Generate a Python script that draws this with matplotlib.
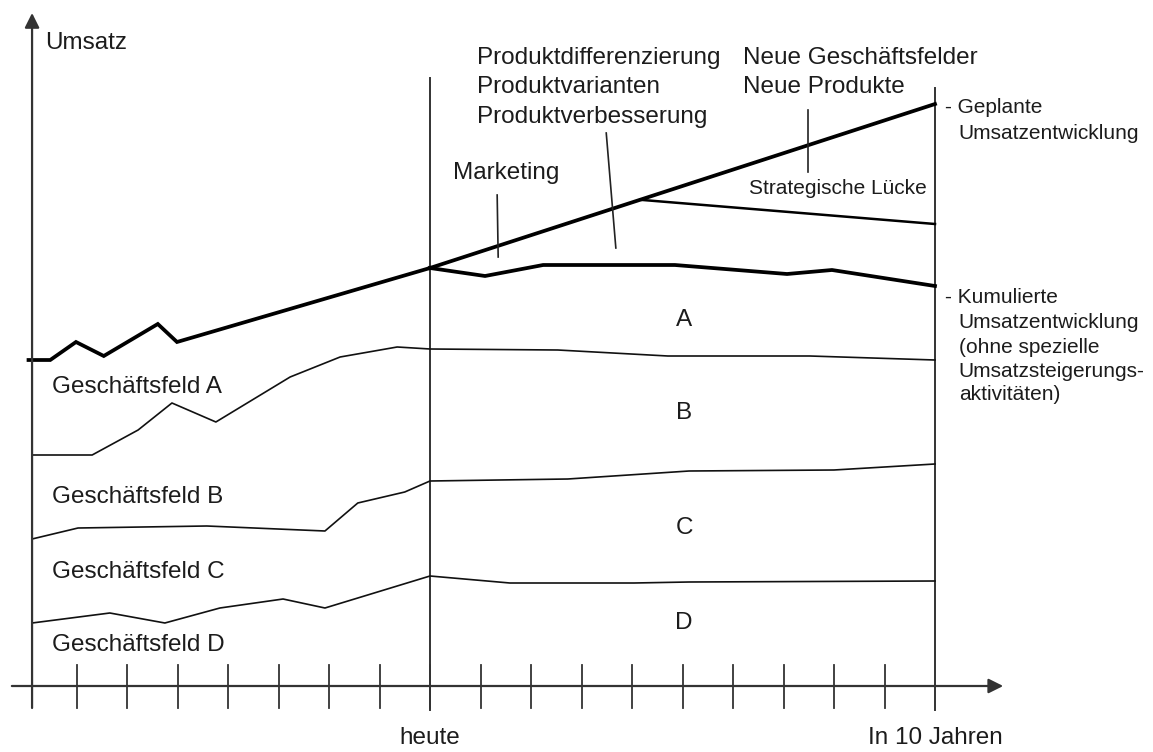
import numpy as np
import matplotlib
matplotlib.use("Agg")
import matplotlib.pyplot as plt

plt.rcParams['font.family'] = ['Liberation Sans', 'DejaVu Sans']

# ---- data (x: years relative to "heute", y: Umsatz in arbitrary units) ----
plan_past_x = [-7.95, -7.52, -7.01, -6.46, -5.39, -5.01, 0.0]
plan_past_y = [32.6, 32.6, 34.4, 33.0, 36.2, 34.4, 41.8]
plan_future_x = [0.0, 10.0]
plan_future_y = [41.8, 58.2]

cum_x = [0.0, 1.09, 2.24, 4.85, 7.07, 7.96, 10.0]
cum_y = [41.8, 41.0, 42.1, 42.1, 41.2, 41.6, 40.0]

gap_x = [4.16, 10.0]
gap_end_y = 46.2

ab_x = [-7.88, -6.69, -5.78, -5.11, -4.24, -2.77, -1.78, -0.65, 0.0, 2.53, 4.71, 7.52, 10.0]
ab_y = [23.1, 23.1, 25.6, 28.3, 26.4, 30.9, 32.9, 33.9, 33.7, 33.6, 33.0, 33.0, 32.6]

bc_x = [-7.88, -6.97, -4.42, -2.08, -1.43, -0.50, 0.0, 2.73, 5.13, 8.0, 10.0]
bc_y = [14.7, 15.8, 16.0, 15.5, 18.3, 19.4, 20.5, 20.7, 21.5, 21.6, 22.2]

cd_x = [-7.88, -6.34, -5.25, -4.16, -2.91, -2.08, 0.0, 1.58, 4.04, 5.13, 10.0]
cd_y = [6.3, 7.3, 6.3, 7.8, 8.7, 7.8, 11.0, 10.3, 10.3, 10.4, 10.5]

tick_years = list(range(-7, 10))
field_labels = ["Geschäftsfeld A", "Geschäftsfeld B", "Geschäftsfeld C", "Geschäftsfeld D"]
segment_letters = ["A", "B", "C", "D"]

# ---- figure ----
W, H = 1153, 752
fig = plt.figure(figsize=(W / 100, H / 100), dpi=100)
ax = fig.add_axes([0, 0, 1, 1])
ax.set_xlim(-430 / 50.5, (W - 430) / 50.5)
ax.set_ylim((686 - H) / 10, 686 / 10)
ax.axis('off')

txt = '#1c1c1c'
axc = '#333333'
FS = 17.5
FS2 = 15

# axes with arrows
ax.annotate('', xy=(11.35, 0), xytext=(-8.28, 0),
            arrowprops=dict(arrowstyle='-|>', color=axc, lw=1.6, mutation_scale=22,
                            shrinkA=0, shrinkB=0))
ax.annotate('', xy=(-7.88, 67.3), xytext=(-7.88, -2.2),
            arrowprops=dict(arrowstyle='-|>', color=axc, lw=1.6, mutation_scale=22,
                            shrinkA=0, shrinkB=0))
# ticks
for t in tick_years:
    ax.plot([t, t], [2.1, -2.2], color=axc, lw=1.3)
# vertical lines heute / in 10 Jahren
ax.plot([0, 0], [-2.4, 60.8], color=axc, lw=1.4)
ax.plot([10, 10], [-2.4, 59.8], color=axc, lw=1.4)

# business field boundaries (thin)
ax.plot(ab_x, ab_y, color='#111111', lw=1.2)
ax.plot(bc_x, bc_y, color='#111111', lw=1.2)
ax.plot(cd_x, cd_y, color='#111111', lw=1.2)

# planned and cumulative (thick)
ax.plot(plan_past_x, plan_past_y, color='black', lw=2.7, solid_joinstyle='miter')
ax.plot(plan_future_x, plan_future_y, color='black', lw=2.7)
ax.plot(cum_x, cum_y, color='black', lw=2.7)
gap_start_y = float(np.interp(gap_x[0], plan_future_x, plan_future_y))
ax.plot(gap_x, [gap_start_y, gap_end_y], color='black', lw=1.8)

# leader lines
ax.plot([1.33, 1.35], [49.1, 42.9], color='#222222', lw=1.2)
ax.plot([3.49, 3.68], [55.3, 43.8], color='#222222', lw=1.2)
ax.plot([7.49, 7.49], [57.6, 51.4], color='#222222', lw=1.2)

# texts
ax.text(-7.62, 64.3, "Umsatz", fontsize=FS, color=txt, va='center', ha='left')
for lab, yy in zip(field_labels, [29.9, 18.9, 11.4, 4.1]):
    ax.text(-7.49, yy, lab, fontsize=FS, color=txt, va='center', ha='left')
for lab, yy in zip(segment_letters, [36.6, 27.3, 15.8, 6.3]):
    ax.text(5.03, yy, lab, fontsize=FS, color=txt, va='center', ha='center')

for lab, yy in zip(["Produktdifferenzierung", "Produktvarianten", "Produktverbesserung"],
                   [62.8, 59.9, 56.9]):
    ax.text(0.93, yy, lab, fontsize=FS, color=txt, va='center', ha='left')
for lab, yy in zip(["Neue Geschäftsfelder", "Neue Produkte"], [62.8, 59.9]):
    ax.text(6.2, yy, lab, fontsize=FS, color=txt, va='center', ha='left')
ax.text(0.46, 51.3, "Marketing", fontsize=FS, color=txt, va='center', ha='left')
ax.text(9.84, 49.8, "Strategische Lücke", fontsize=FS2, color=txt, va='center', ha='right')

ax.text(10.2, 57.8, "- Geplante", fontsize=FS2, color=txt, va='center', ha='left')
ax.text(10.47, 55.2, "Umsatzentwicklung", fontsize=FS2, color=txt, va='center', ha='left')
ax.text(10.2, 38.8, "- Kumulierte", fontsize=FS2, color=txt, va='center', ha='left')
for lab, yy in zip(["Umsatzentwicklung", "(ohne spezielle", "Umsatzsteigerungs-", "aktivitäten)"],
                   [36.3, 33.8, 31.4, 29.1]):
    ax.text(10.47, yy, lab, fontsize=FS2, color=txt, va='center', ha='left')

ax.text(0.0, -5.2, "heute", fontsize=FS, color=txt, va='center', ha='center')
ax.text(10.0, -5.2, "In 10 Jahren", fontsize=FS, color=txt, va='center', ha='center')

fig.savefig("out.png", dpi=100, facecolor='white')
